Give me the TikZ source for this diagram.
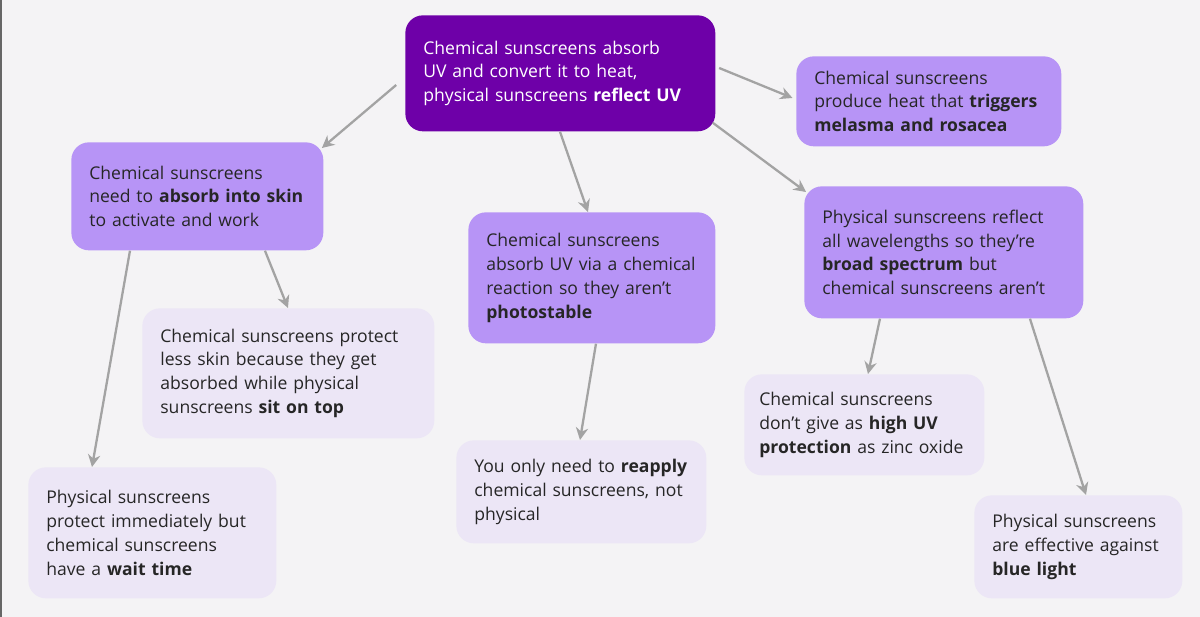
\documentclass[tikz,border=0pt]{standalone}
\usepackage{fontspec}
\setmainfont{Open Sans}
\usetikzlibrary{arrows.meta}
\definecolor{bgc}{HTML}{F4F3F5}
\definecolor{rootc}{HTML}{6E00A8}
\definecolor{midc}{HTML}{B794F6}
\definecolor{lightc}{HTML}{ECE6F6}
\definecolor{arrc}{HTML}{A3A3A3}
\hyphenpenalty=10000
\tikzset{
	box/.style={rectangle, rounded corners=10pt, anchor=north west, align=left,
		inner xsep=0.36cm, font=\fontsize{10}{13.6}\selectfont, text=black!85},
	rootbox/.style={box, fill=rootc, text=white},
	midbox/.style={box, fill=midc},
	lightbox/.style={box, fill=lightc},
	link/.style={-{Stealth[length=7pt,width=7pt]}, draw=arrc, line width=1.3pt}
}
\begin{document}
\begin{tikzpicture}[x=0.02cm,y=-0.02cm]
	\fill[bgc] (0,0) rectangle (1200,617);
	\fill[black!60] (0,0) rectangle (2,617);
	
	\node[rootbox, text width=6.2cm-0.72cm, minimum height=2.32cm] (root) at (405,15)
		{Chemical sunscreens absorb\\UV and convert it to heat,\\physical sunscreens \textbf{reflect UV}};
	\node[midbox, text width=5.04cm-0.72cm, minimum height=2.16cm] (absorb) at (71,142)
		{Chemical sunscreens\\need to \textbf{absorb into skin}\\to activate and work};
	\node[midbox, text width=5.3cm-0.72cm, minimum height=1.8cm] (heat) at (796,56)
		{Chemical sunscreens\\produce heat that \textbf{triggers}\\\textbf{melasma and rosacea}};
	\node[midbox, text width=4.94cm-0.72cm, minimum height=2.62cm] (photo) at (468,212)
		{Chemical sunscreens\\absorb UV via a chemical\\reaction so they aren't\\\textbf{photostable}};
	\node[midbox, text width=5.58cm-0.72cm, minimum height=2.64cm] (spectrum) at (804,186)
		{Physical sunscreens reflect\\all wavelengths so they're\\\textbf{broad spectrum} but\\chemical sunscreens aren't};
	\node[lightbox, text width=5.84cm-0.72cm, minimum height=2.6cm] (top) at (142,308)
		{Chemical sunscreens protect\\less skin because they get\\absorbed while physical\\sunscreens \textbf{sit on top}};
	\node[lightbox, text width=4.96cm-0.72cm, minimum height=2.62cm] (wait) at (28,467)
		{Physical sunscreens\\protect immediately but\\chemical sunscreens\\have a \textbf{wait time}};
	\node[lightbox, text width=5cm-0.72cm, minimum height=2.06cm] (reapply) at (456,440)
		{You only need to \textbf{reapply}\\chemical sunscreens, not\\physical};
	\node[lightbox, inner xsep=0.3cm, text width=4.8cm-0.6cm, minimum height=2.02cm] (zinc) at (744,374)
		{Chemical sunscreens\\don't give as \textbf{high UV}\\\textbf{protection} as zinc oxide};
	\node[lightbox, text width=4.16cm-0.72cm, minimum height=2.06cm] (blue) at (974,495)
		{Physical sunscreens\\are effective against\\\textbf{blue light}};
	
	\draw[link] ([xshift=-5pt,yshift=-1.4cm]root.north west) -- ([xshift=-1pt,yshift=-0.12cm]absorb.north east);
	\draw[link] ([xshift=2pt,yshift=-1.06cm]root.north east) -- ([xshift=-2pt,yshift=-0.84cm]heat.north west);
	\draw[link] ([xshift=3.1cm]root.south west) -- ([xshift=2.4cm]photo.north west);
	\draw[link] ([xshift=-0.06cm,yshift=0.18cm]root.south east) -- ([xshift=0.04cm,yshift=-0.12cm]spectrum.north west);
	\draw[link] ([xshift=1.18cm]absorb.south west) -- ([xshift=1.28cm]wait.north west);
	\draw[link] ([xshift=3.88cm]absorb.south west) -- ([xshift=2.92cm]top.north west);
	\draw[link] ([xshift=2.56cm]photo.south west) -- ([xshift=2.48cm]reapply.north west);
	\draw[link] ([xshift=1.52cm]spectrum.south west) -- ([xshift=2.48cm]zinc.north west);
	\draw[link] ([xshift=4.52cm]spectrum.south west) -- ([xshift=2.24cm]blue.north west);
\end{tikzpicture}
\end{document}
